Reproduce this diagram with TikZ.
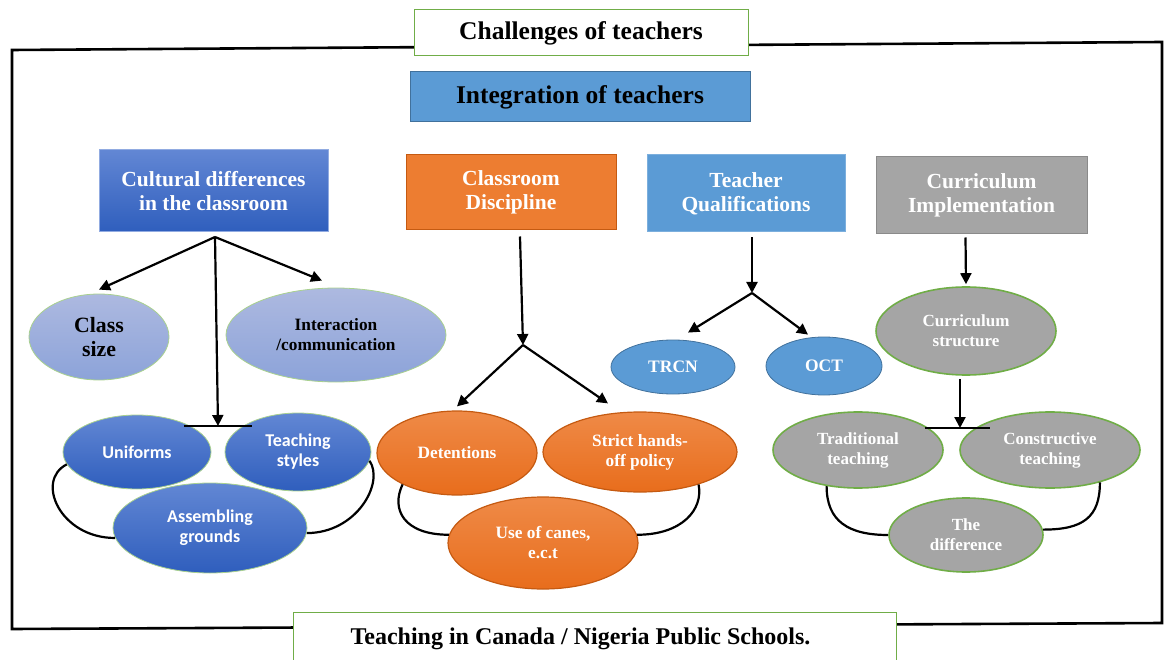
\documentclass[tikz,border=0pt]{standalone}
\usepackage{fontspec}
\setmainfont{Liberation Serif}
\newfontfamily\sansbold{Carlito}
\usetikzlibrary{positioning, arrows.meta, shapes.geometric, backgrounds}

\definecolor{hdblue}{HTML}{5B9BD5}
\definecolor{hdblueline}{HTML}{41719C}
\definecolor{cultop}{HTML}{6287D4}
\definecolor{culbot}{HTML}{2F5EBD}
\definecolor{softtop}{HTML}{ADB9E0}
\definecolor{softbot}{HTML}{8CA3D9}
\definecolor{discorange}{HTML}{ED7D31}
\definecolor{orangetop}{HTML}{EF8A47}
\definecolor{orangebot}{HTML}{E86D1C}
\definecolor{orangeline}{HTML}{C55A11}
\definecolor{curgray}{HTML}{A5A5A5}
\definecolor{grayline}{HTML}{8A8A8A}
\definecolor{edgegreen}{HTML}{70AD47}
\definecolor{palegreen}{HTML}{A9D18E}

\begin{document}
\begin{tikzpicture}[x=1pt, y=-1pt,
  title/.style={rectangle, draw=edgegreen, fill=white, line width=1pt,
                inner sep=0pt, font=\fontsize{25.5}{28}\selectfont\bfseries},
  header/.style={rectangle, draw=hdblueline, fill=hdblue, line width=1pt,
                 inner sep=0pt, font=\fontsize{25.5}{28}\selectfont\bfseries},
  topic/.style={rectangle, line width=1pt, inner sep=0pt, align=center,
                text=white, font=\fontsize{21.5}{24}\selectfont\bfseries},
  bubble/.style={ellipse, inner sep=0pt, align=center, line width=0.8pt},
  softblue/.style={bubble, draw=palegreen, top color=softtop, bottom color=softbot,
                   font=\fontsize{17.3}{20}\selectfont\bfseries},
  deepblue/.style={bubble, draw=palegreen, top color=cultop, bottom color=culbot,
                   text=white, font=\fontsize{18}{20}\sansbold\bfseries},
  orangeell/.style={bubble, draw=orangeline, top color=orangetop, bottom color=orangebot,
                    line width=1.2pt, text=white, font=\fontsize{17.3}{20}\selectfont\bfseries},
  qualell/.style={bubble, draw=hdblueline, fill=hdblue, text=white,
                  font=\fontsize{17.5}{20}\selectfont\bfseries},
  grayell/.style={bubble, draw=edgegreen, fill=curgray, line width=1.6pt, text=white,
                  font=\fontsize{17}{20}\selectfont\bfseries},
  arr/.style={-{Triangle[length=11pt, width=11pt]}, line width=2.2pt},
  link/.style={line width=2.2pt}
]
\useasboundingbox (0,0) rectangle (1164,660);

% outer frame
\draw[line width=2.6pt] (12,50) -- (12,629) -- (1162,623) -- (1162,42) -- cycle;

% titles
\node[title, minimum width=334, minimum height=46] (challenges) at (581,33) {Challenges of teachers};
\node[header, minimum width=340, minimum height=50] (integration) at (580,97) {Integration of teachers};
\node[title, minimum width=603, minimum height=54, font=\fontsize{24}{28}\selectfont\bfseries] (schools) at (594.5,639) {\hspace*{-28pt}Teaching in Canada / Nigeria Public Schools.};

% cultural differences
\node[topic, top color=cultop, bottom color=culbot, draw=cultop!70!white,
      minimum width=229, minimum height=82] (cultural) at (213.5,191) {Cultural differences\\in the classroom};
\node[softblue, minimum width=140, minimum height=86, font=\fontsize{21.8}{24}\selectfont\bfseries] (classSize) at (99,337) {Class\\size};
\node[softblue, minimum width=220, minimum height=94] (interaction) at (336,335) {Interaction\\/communication};
\node[deepblue, minimum width=148, minimum height=74] (uniforms) at (137,452) {Uniforms};
\node[deepblue, minimum width=146, minimum height=78] (teachStyles) at (298,452) {Teaching\\styles};
\node[deepblue, minimum width=194, minimum height=90] (assembling) at (210,528) {Assembling\\grounds};

\coordinate (cdFork) at (215,237);
\coordinate (cdBar) at (218,426);
\draw[arr] (cdFork) -- ([yshift=4pt]classSize.north);
\draw[arr] (cdFork) -- ([xshift=-14pt, yshift=7pt]interaction.north);
\draw[arr] (cdFork) -- (cdBar);
\draw[link] ([xshift=-34pt]cdBar) -- ([xshift=34pt]cdBar);
\draw[link] (uniforms.190) .. controls +(-32,16) and +(-55,0) .. (assembling.186);
\draw[link] (teachStyles.353) .. controls +(15,22) and +(50,0) .. (assembling.357);

% classroom discipline
\node[topic, fill=discorange, draw=orangeline, minimum width=210, minimum height=75] (discipline) at (511,192.5) {Classroom\\Discipline};
\node[orangeell, minimum width=160, minimum height=84] (detentions) at (457,453) {Detentions};
\node[orangeell, minimum width=194, minimum height=80] (handsOff) at (640,452) {Strict hands-\\off policy};
\node[orangeell, minimum width=190, minimum height=92] (canes) at (543,543) {Use of canes,\\e.c.t};

\coordinate (dcFork) at (523,345);
\draw[arr] ([xshift=9pt, yshift=-6pt]discipline.south) -- (dcFork);
\draw[arr] (dcFork) -- ([yshift=4pt]detentions.north);
\draw[arr] (dcFork) -- ([xshift=-32pt, yshift=8pt]handsOff.north);
\draw[link] (detentions.210) .. controls +(-12,25) and +(-45,0) .. (canes.175);
\draw[link] (handsOff.331) .. controls +(5,25) and +(45,0) .. (canes.5);

% teacher qualifications
\node[topic, fill=hdblue, draw=hdblue!80!white, minimum width=198, minimum height=77] (qualif) at (746,193.5) {Teacher\\Qualifications};
\node[qualell, minimum width=124, minimum height=54] (trcn) at (673,367) {TRCN};
\node[qualell, minimum width=116, minimum height=58] (oct) at (824,366) {OCT};

\coordinate (tqFork) at (752,293);
\draw[arr] ([xshift=6pt, yshift=-5pt]qualif.south) -- (tqFork);
\draw[arr] (tqFork) -- ([xshift=15pt, yshift=7pt]trcn.north);
\draw[arr] (tqFork) -- ([xshift=-16pt, yshift=2pt]oct.north);

% curriculum implementation
\node[topic, fill=curgray, draw=grayline, minimum width=211, minimum height=77] (curric) at (981.5,195.5) {Curriculum\\Implementation};
\node[grayell, minimum width=180, minimum height=88] (structure) at (966,331) {Curriculum\\structure};
\node[grayell, minimum width=170, minimum height=76] (traditional) at (858,450) {Traditional\\teaching};
\node[grayell, minimum width=180, minimum height=76] (constructive) at (1050,450) {Constructive\\teaching};
\node[grayell, minimum width=154, minimum height=74] (difference) at (966,535) {The\\difference};

\coordinate (ciBar) at (960,428);
\draw[arr] ([xshift=-16pt, yshift=-3pt]curric.south) -- ([yshift=2pt]structure.north);
\draw[arr] ([xshift=-6pt, yshift=-3pt]structure.south) -- (ciBar);
\draw[link] ([xshift=-35pt]ciBar) -- ([xshift=30pt]ciBar);
\draw[link] (traditional.229) .. controls +(0,35) and +(-40,0) .. (difference.west);
\draw[link] (constructive.327) .. controls +(0,35) and +(40,0) .. (difference.4);
\end{tikzpicture}
\end{document}
